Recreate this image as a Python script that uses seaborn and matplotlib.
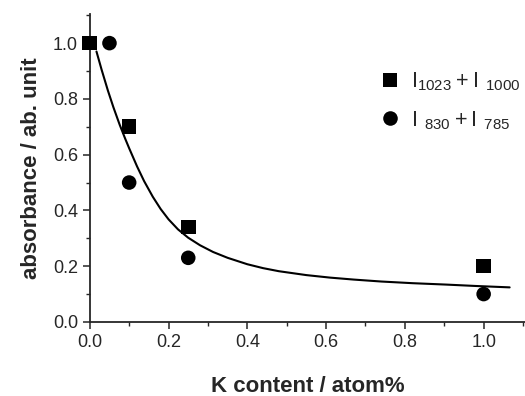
import pandas as pd
import matplotlib
matplotlib.use("Agg")
import matplotlib.pyplot as plt
from matplotlib.ticker import MultipleLocator
import seaborn as sns

# data
sq_x = [0.0, 0.1, 0.25, 1.0]
sq_y = [1.0, 0.70, 0.34, 0.20]
ci_x = [0.05, 0.1, 0.25, 1.0]
ci_y = [1.0, 0.50, 0.23, 0.10]
fit_x = [0.017, 0.03, 0.046, 0.06, 0.076, 0.09, 0.10, 0.12, 0.138, 0.16, 0.18,
         0.20, 0.224, 0.25, 0.28, 0.313, 0.35, 0.40, 0.44, 0.48, 0.55, 0.61,
         0.67, 0.74, 0.82, 0.905, 0.98, 1.066]
fit_y = [0.97, 0.905, 0.83, 0.77, 0.707, 0.657, 0.623, 0.558, 0.505, 0.449, 0.405,
         0.368, 0.332, 0.302, 0.275, 0.251, 0.230, 0.207, 0.193, 0.182, 0.168, 0.159,
         0.152, 0.145, 0.139, 0.134, 0.129, 0.124]
lab_sq = r"$\mathregular{I_{1023}+I\ _{1000}}$"
lab_ci = r"$\mathregular{I\ _{830}+I\ _{785}}$"

df_pts = pd.DataFrame({
    "x": sq_x + ci_x,
    "y": sq_y + ci_y,
    "serie": [lab_sq] * len(sq_x) + [lab_ci] * len(ci_x),
})
df_fit = pd.DataFrame({"x": fit_x, "y": fit_y})

sns.set_theme(style="ticks")
plt.rcParams["font.family"] = ["Liberation Sans", "DejaVu Sans"]
plt.rcParams["mathtext.fontset"] = "custom"
plt.rcParams["mathtext.rm"] = "Liberation Sans"

fig = plt.figure(figsize=(5.25, 3.96), dpi=100)
ax = fig.add_axes([0.171, 0.187, 0.829, 0.778])

sns.lineplot(data=df_fit, x="x", y="y", color="black", linewidth=1.5, ax=ax)
sns.scatterplot(data=df_pts, x="x", y="y", style="serie",
                markers={lab_sq: "s", lab_ci: "o"}, color="black",
                s=110, edgecolor="black", linewidth=0, ax=ax, zorder=3,
                clip_on=False)

ax.set_xlim(0, 1.105)
ax.set_ylim(0, 1.105)
ax.xaxis.set_minor_locator(MultipleLocator(0.1))
ax.yaxis.set_minor_locator(MultipleLocator(0.1))
ax.set_xticks([0.0, 0.2, 0.4, 0.6, 0.8, 1.0])
ax.set_xticklabels(["0.0", "0.2", "0.4", "0.6", "0.8", "1.0"])
ax.set_yticks([0.0, 0.2, 0.4, 0.6, 0.8, 1.0])
ax.set_yticklabels(["0.0", "0.2", "0.4", "0.6", "0.8", "1.0"])
ax.tick_params(which="major", length=5, width=1.1, labelsize=13, direction="out")
ax.tick_params(which="minor", length=3, width=1.0, direction="out")
for sp in ["left", "bottom"]:
    ax.spines[sp].set_linewidth(1.3)
sns.despine(ax=ax)

ax.set_xlabel("K content / atom%", fontsize=16, fontweight="bold", labelpad=18)
ax.set_ylabel("absorbance / ab. unit", fontsize=16, fontweight="bold", labelpad=8)

ax.legend(loc="upper left", bbox_to_anchor=(0.62, 0.88), frameon=False,
          fontsize=15.5, handletextpad=0.5, labelspacing=0.75,
          handlelength=1.0)

fig.savefig("out.png", dpi=100)
